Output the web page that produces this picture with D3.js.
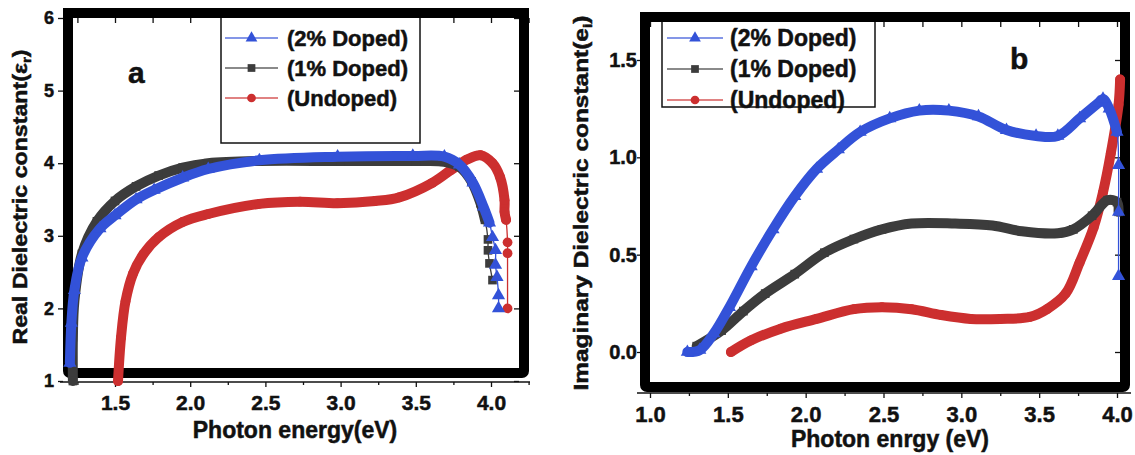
<!DOCTYPE html>
<html>
<head>
<meta charset="utf-8">
<title>Real / Imaginary dielectric constant</title>
<script src="https://cdnjs.cloudflare.com/ajax/libs/d3/7.8.5/d3.min.js"></script>
<style>
  body { margin: 0; background: #fff; }
  text { font-family: "Liberation Sans", Arial, sans-serif; font-weight: bold; fill: #111;
         stroke: #111; stroke-width: 0.5px; }
</style>
</head>
<body>
<script>

// Legend labels, shared by both panels
var legendLabels = ["(2% Doped)", "(1% Doped)", "(Undoped)"];

// Panel a: real dielectric constant, [photon energy (eV), value]
var realDoped2 = [[1.20, 1.25], [1.21, 1.8], [1.23, 2.25], [1.28, 2.7], [1.40, 3.1], [1.50, 3.28],
  [1.64, 3.5], [1.76, 3.63], [1.95, 3.8], [2.12, 3.92], [2.46, 4.04], [2.98, 4.09], [3.48, 4.1],
  [3.69, 4.09], [3.79, 3.98], [3.88, 3.73], [3.95, 3.4], [3.99, 3.18], [4.01, 2.98], [4.03, 2.8],
  [4.03, 2.6], [4.04, 2.43], [4.05, 2.18], [4.05, 2.0]];
var realDoped1 = [[1.22, 1.0], [1.22, 1.6], [1.23, 2.1], [1.28, 2.75], [1.38, 3.2], [1.50, 3.48],
  [1.64, 3.68], [1.79, 3.83], [1.95, 3.94], [2.12, 4.0], [2.46, 4.03], [3.0, 4.03], [3.5, 4.03],
  [3.69, 4.02], [3.79, 3.95], [3.87, 3.75], [3.93, 3.45], [3.96, 3.22], [3.98, 2.95], [3.98, 2.8],
  [3.99, 2.62], [4.01, 2.39]];
var realUndoped = [[1.52, 1.0], [1.54, 1.6], [1.57, 2.1], [1.62, 2.48], [1.69, 2.75], [1.79, 2.98],
  [1.95, 3.19], [2.12, 3.3], [2.46, 3.44], [2.73, 3.47], [2.98, 3.45], [3.23, 3.48], [3.39, 3.53],
  [3.61, 3.73], [3.73, 3.9], [3.84, 4.05], [3.93, 4.11], [4.01, 4.0], [4.06, 3.81], [4.09, 3.49],
  [4.09, 3.33], [4.10, 3.22], [4.11, 2.91], [4.11, 2.76], [4.11, 2.0]];

// Panel b: imaginary dielectric constant, [photon energy (eV), value]
var imagDoped2 = [[1.24, 0.0], [1.32, 0.01], [1.41, 0.095], [1.51, 0.23], [1.65, 0.44], [1.79, 0.63],
  [1.93, 0.8], [2.07, 0.94], [2.21, 1.04], [2.35, 1.13], [2.54, 1.2], [2.73, 1.24], [2.92, 1.24],
  [3.11, 1.21], [3.29, 1.14], [3.48, 1.11], [3.62, 1.11], [3.76, 1.2], [3.88, 1.28], [3.91, 1.3],
  [3.95, 1.25], [4.0, 1.13], [4.01, 0.96], [4.01, 0.72], [4.01, 0.39]];
var imagDoped1 = [[1.30, 0.03], [1.46, 0.11], [1.60, 0.21], [1.74, 0.3], [1.93, 0.4], [2.12, 0.51],
  [2.31, 0.58], [2.49, 0.63], [2.68, 0.66], [2.96, 0.66], [3.2, 0.65], [3.39, 0.62], [3.62, 0.61],
  [3.72, 0.63], [3.84, 0.7], [3.94, 0.78], [4.0, 0.77], [4.01, 0.72]];
var imagUndoped = [[1.52, 0.0], [1.65, 0.06], [1.84, 0.12], [2.07, 0.17], [2.31, 0.22], [2.49, 0.23],
  [2.68, 0.22], [2.87, 0.19], [3.06, 0.17], [3.25, 0.17], [3.44, 0.18], [3.55, 0.22], [3.67, 0.3],
  [3.76, 0.46], [3.85, 0.64], [3.91, 0.82], [3.96, 1.02], [4.01, 1.27], [4.02, 1.4]];

// Tick values
var realTicksX = [1.5, 2.0, 2.5, 3.0, 3.5, 4.0];
var realMinorX = [1.25, 1.75, 2.25, 2.75, 3.25, 3.75, 4.25];
var realTicksY = [1, 2, 3, 4, 5, 6];
var imagTicksX = [1.0, 1.5, 2.0, 2.5, 3.0, 3.5, 4.0];
var imagMinorX = [1.25, 1.75, 2.25, 2.75, 3.25, 3.75];
var imagTicksY = [0.0, 0.5, 1.0, 1.5];

var colors = ["#3352d8", "#3c3c3c", "#cc2f2f"];
var symbols = [d3.symbolTriangle, d3.symbolSquare, d3.symbolCircle];

window.onload = function() {
  var svg = d3.select("body").append("svg").attr("width", 1135).attr("height", 455);

  drawPanel(svg, {
    frame: {l: 63, t: 8, r: 529, b: 378},
    xDomain: [1.5, 4.0], xRange: [115, 491],
    yDomain: [1, 6], yRange: [381, 18],
    axisY: 382, xTicks: realTicksX, xMinor: realMinorX, yTicks: realTicksY,
    xFormat: d3.format(".1f"), yFormat: d3.format("d"),
    xLabelSize: 21, yLabelSize: 18, xPad: 8, yTickSize: 5, yPad: 4,
    series: [realDoped2, realDoped1, realUndoped],
    // points after these indices are sparse markers on a thin line
    bandEnd: [17, 17, 21],
    letter: {text: "a", x: 128, y: 83},
    legend: {l: 221, t: 12, r: 420, b: 143, rows: [38, 68, 98], lineX: [225, 278], textX: 287, size: 22},
    xTitle: {text: "Photon energy(eV)", x: 295, y: 438},
    yTitle: {main: "Real Dielectric constant(\u03b5", sub: "r", x: 27, y: 197, size: 20, length: 295}
  });

  drawPanel(svg, {
    frame: {l: 640, t: 12, r: 1130, b: 392},
    xDomain: [1.0, 4.0], xRange: [650, 1117],
    yDomain: [0, 1.5], yRange: [352, 60],
    axisY: 393, xTicks: imagTicksX, xMinor: imagMinorX, yTicks: imagTicksY,
    xFormat: d3.format(".1f"), yFormat: d3.format(".1f"),
    xLabelSize: 22, yLabelSize: 20, xPad: 8, yTickSize: 3, yPad: 0,
    series: [imagDoped2, imagDoped1, imagUndoped],
    bandEnd: [21, 17, 18],
    letter: {text: "b", x: 1010, y: 69},
    legend: {l: 662, t: 17, r: 875, b: 107, rows: [38, 69, 100], lineX: [667, 723], textX: 730, size: 23},
    xTitle: {text: "Photon enrgy (eV)", x: 890, y: 447},
    yTitle: {main: "Imaginary Dielectric constant(e", sub: "i", x: 588, y: 203, size: 20, length: 375}
  });
};

// Draws one framed panel with axes, curves and legend
function drawPanel(svg, p) {
  var x = d3.scaleLinear().domain(p.xDomain).range(p.xRange);
  var y = d3.scaleLinear().domain(p.yDomain).range(p.yRange);
  var f = p.frame;
  var g = svg.append("g");

  // Bottom axis line with major and minor ticks
  g.append("line").attr("x1", f.l - 3).attr("x2", f.r + 1)
   .attr("y1", p.axisY).attr("y2", p.axisY)
   .attr("stroke", "#111").attr("stroke-width", 1.5);
  var xAxis = g.append("g").attr("transform", "translate(0," + p.axisY + ")")
   .call(d3.axisBottom(x).tickValues(p.xTicks).tickSize(5).tickPadding(p.xPad).tickFormat(p.xFormat));
  g.append("g").attr("transform", "translate(0," + p.axisY + ")")
   .call(d3.axisBottom(x).tickValues(p.xMinor).tickSize(3).tickFormat(""));
  xAxis.selectAll("text").style("font-size", p.xLabelSize + "px");

  // Left axis
  var yAxis = g.append("g").attr("transform", "translate(" + f.l + ",0)")
   .call(d3.axisLeft(y).tickValues(p.yTicks).tickSize(p.yTickSize).tickPadding(p.yPad).tickFormat(p.yFormat));
  yAxis.selectAll("text").style("font-size", p.yLabelSize + "px");

  // Inner ticks on top and right side
  g.append("g").attr("transform", "translate(0," + (f.t + 10) + ")")
   .call(d3.axisBottom(x).tickValues(p.xTicks.concat(p.xMinor)).tickSize(5).tickFormat(""));
  g.append("g").attr("transform", "translate(" + (f.r - 10) + ",0)")
   .call(d3.axisLeft(y).tickValues(p.yTicks).tickSize(5).tickFormat(""));

  g.selectAll(".domain").remove();
  g.selectAll(".tick line").attr("stroke", "#111").attr("stroke-width", 1.3);
  g.selectAll(".tick text").attr("fill", "#111");

  // Thick black frame
  g.append("rect").attr("x", f.l + 5).attr("y", f.t + 5)
   .attr("width", f.r - f.l - 10).attr("height", f.b - f.t - 10)
   .attr("fill", "none").attr("stroke", "#000").attr("stroke-width", 10).attr("rx", 2);

  // Legend box, its top edge hidden under the frame
  var lg = p.legend;
  g.append("rect").attr("x", lg.l).attr("y", lg.t)
   .attr("width", lg.r - lg.l).attr("height", lg.b - lg.t)
   .attr("fill", "#fff").attr("stroke", "#111").attr("stroke-width", 1.5);
  g.append("rect").attr("x", f.l).attr("y", f.t).attr("width", f.r - f.l).attr("height", 10).attr("fill", "#000");

  legendLabels.forEach(function(label, i) {
    var row = g.append("g").attr("transform", "translate(0," + lg.rows[i] + ")");
    row.append("line").attr("x1", lg.lineX[0]).attr("x2", lg.lineX[1])
       .attr("stroke", colors[i]).attr("stroke-width", 1.3).attr("opacity", 0.8);
    row.append("path").attr("d", d3.symbol().type(symbols[i]).size(60)())
       .attr("transform", "translate(" + ((lg.lineX[0] + lg.lineX[1]) / 2) + ",0)")
       .attr("fill", colors[i]);
    row.append("text").attr("x", lg.textX).attr("dy", "0.36em")
       .style("font-size", lg.size + "px").text(label);
  });

  // Curves: thick band of dense markers, undoped first so doped lies on top
  var line = d3.line().x(function(d) { return x(d[0]); }).y(function(d) { return y(d[1]); })
               .curve(d3.curveCatmullRom.alpha(0.5));
  [2, 1, 0].forEach(function(i) {
    var data = p.series[i];
    var s = g.append("g");
    s.append("path").datum(data).attr("d", line)
     .attr("fill", "none").attr("stroke", colors[i]).attr("stroke-width", 1.3);
    s.append("path").datum(data.slice(0, p.bandEnd[i] + 1)).attr("d", line)
     .attr("fill", "none").attr("stroke", colors[i]).attr("stroke-width", 10)
     .attr("stroke-linejoin", "round").attr("stroke-linecap", "round");
    s.selectAll(".pt").data(data).enter().append("path").attr("class", "pt")
     .attr("d", d3.symbol().type(symbols[i]).size(75))
     .attr("transform", function(d) { return "translate(" + x(d[0]) + "," + y(d[1]) + ")"; })
     .attr("fill", colors[i]);
  });

  // Panel letter
  g.append("text").attr("x", p.letter.x).attr("y", p.letter.y)
   .style("font-size", "30px").text(p.letter.text);

  // Axis titles
  g.append("text").attr("x", p.xTitle.x).attr("y", p.xTitle.y)
   .attr("text-anchor", "middle").style("font-size", "23px").text(p.xTitle.text);
  var yt = g.append("text").attr("transform", "translate(" + p.yTitle.x + "," + p.yTitle.y + ") rotate(-90)")
   .attr("text-anchor", "middle").style("font-size", p.yTitle.size + "px")
   .attr("textLength", p.yTitle.length).attr("lengthAdjust", "spacingAndGlyphs");
  yt.append("tspan").text(p.yTitle.main);
  yt.append("tspan").attr("dy", 4).style("font-size", "13px").text(p.yTitle.sub);
  yt.append("tspan").attr("dy", -4).text(")");
}
</script>
</body>
</html>
